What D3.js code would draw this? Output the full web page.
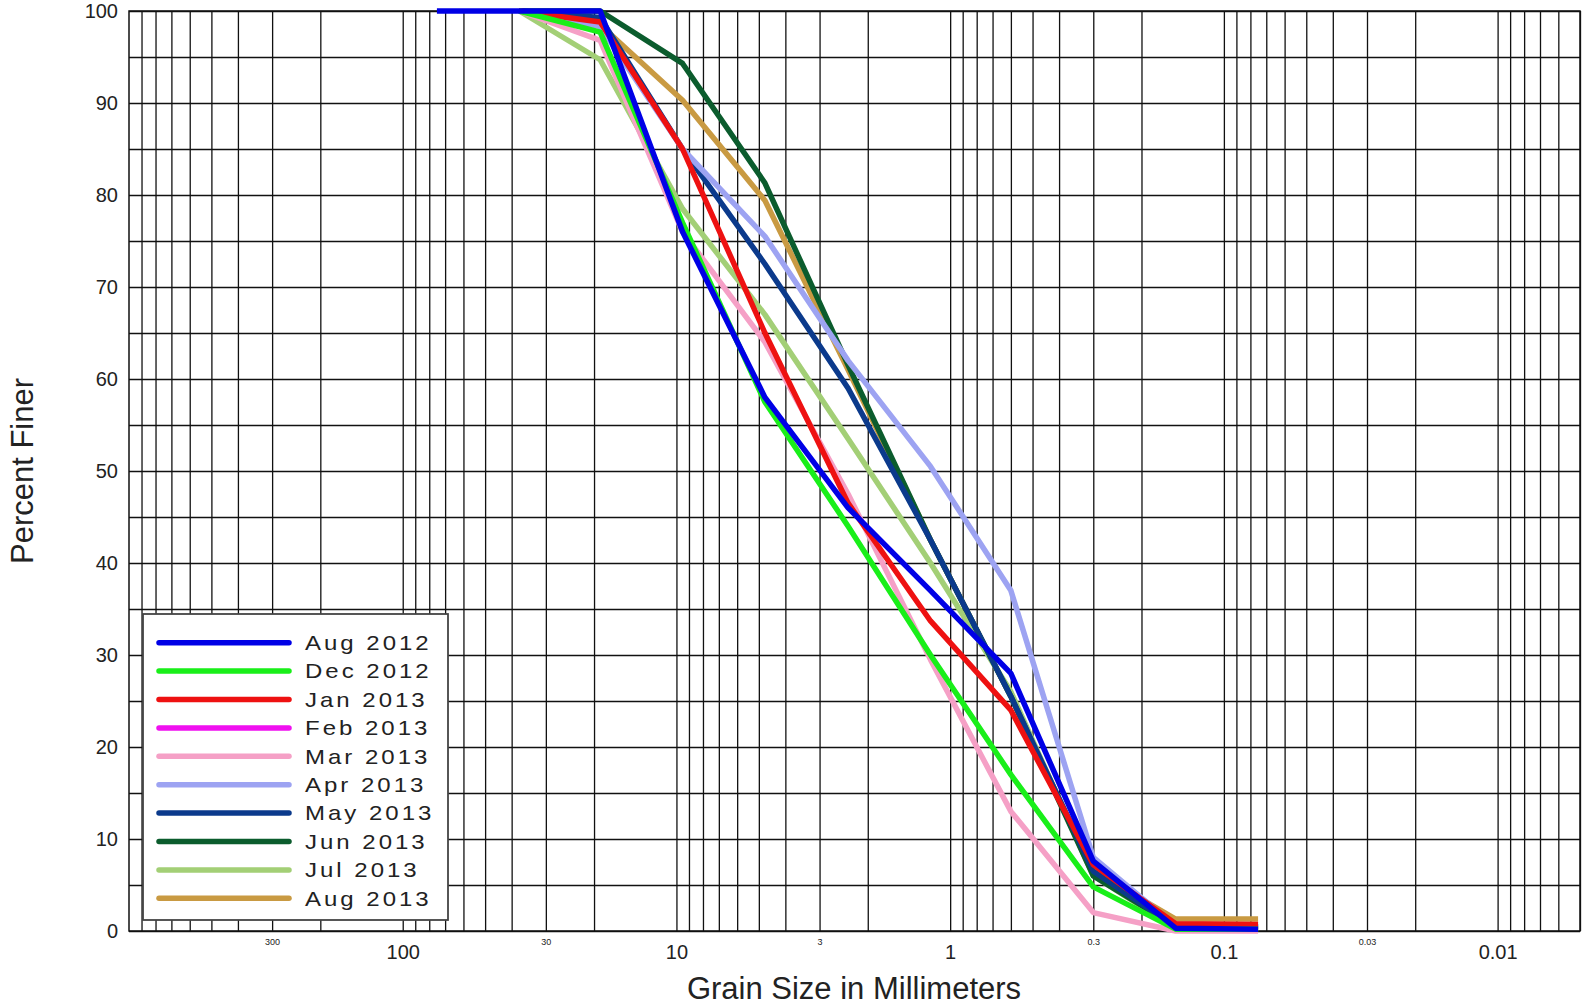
<!DOCTYPE html>
<html>
<head>
<meta charset="utf-8">
<script src="https://cdn.jsdelivr.net/npm/d3@7"></script>
<style>
  body { margin: 0; background: #fff; }
  svg { display: block; font-family: "Liberation Sans", Arial, sans-serif; }
  .grid line { stroke: #111; stroke-width: 1.3; }
  .grid path { display: none; }
  .lbl path, .lbl line { display: none; }
  .lbl text { fill: #222; }
</style>
</head>
<body>
<script>
// sieve sizes (mm)
var sieves = [75, 37.5, 19, 9.5, 4.75, 2.36, 1.18, 0.6, 0.3, 0.15, 0.075];

// percent finer per survey
var aug2012 = [100, 100, 100, 76, 58, 46, 37, 28, 7.6, 0.3, 0.2],
    dec2012 = [null, 100, 97.7, 77, 57.5, 44, 30, 17, 4.8, 0.2, 0.2],
    jan2013 = [null, 100, 98.8, 85, 65, 46.5, 33.7, 24, 7.2, 0.8, 0.7],
    feb2013 = [],
    mar2013 = [null, 100, 96.8, 76, 64, 47.5, 29.5, 13, 2, 0, 0],
    apr2013 = [null, 100, 98.3, 85, 75.5, 62, 50.5, 37, 8, 0.5, 0.5],
    may2013 = [null, 100, 99.3, 85, 72.5, 59, 42.5, 25.5, 6.5, 0.4, 0.4],
    jun2013 = [null, 100, 100, 94.3, 81.3, 61.5, 42.5, 25.5, 6, 0.5, 0.5],
    jul2013 = [null, 100, 94.7, 78.5, 67, 53.5, 40, 26, 6, 0.3, 0.3],
    aug2013 = [null, 100, 98.5, 90.3, 79.4, 61, 42.5, 25.5, 6.5, 1.3, 1.3];

var names = ["Aug 2012", "Dec 2012", "Jan 2013", "Feb 2013", "Mar 2013",
             "Apr 2013", "May 2013", "Jun 2013", "Jul 2013", "Aug 2013"];
var colors = ["#0000e6", "#19ef19", "#ee1111", "#f010f0", "#f5a0c6",
              "#9da3f2", "#0b3a8c", "#0b5c2d", "#a3cf76", "#c99a42"];
var values = [aug2012, dec2012, jan2013, feb2013, mar2013,
              apr2013, may2013, jun2013, jul2013, aug2013];

// axis ticks
var yTicks = [0, 10, 20, 30, 40, 50, 60, 70, 80, 90, 100],
    yGrid = d3.range(0, 101, 5),
    majorX = [100, 10, 1, 0.1, 0.01],
    majorXText = ["100", "10", "1", "0.1", "0.01"],
    minorX = [300, 30, 3, 0.3, 0.03],
    minorXText = ["300", "30", "3", "0.3", "0.03"];

var W = 1585, H = 1008;
var pL = 129, pR = 1580, pT = 11, pB = 931;

var svg = d3.select("body").append("svg")
    .attr("width", W)
    .attr("height", H);

var x = d3.scaleLog().domain([1000, 0.005]).range([pL, pR]),
    y = d3.scaleLinear().domain([0, 100]).range([pB, pT]);

// log grid: 1..9 per decade
var xGrid = [];
for (var e = -3; e <= 2; e++) {
    for (var m = 1; m <= 9; m++) {
        var v = m * Math.pow(10, e);
        if (v >= 0.005 && v <= 1000) xGrid.push(v);
    }
}

svg.append("g")
    .attr("class", "grid")
    .attr("transform", "translate(0," + pB + ")")
    .call(d3.axisBottom(x).tickValues(xGrid).tickSize(-(pB - pT)).tickFormat(""));

svg.append("g")
    .attr("class", "grid")
    .attr("transform", "translate(" + pL + ",0)")
    .call(d3.axisLeft(y).tickValues(yGrid).tickSize(-(pR - pL)).tickFormat(""));

svg.append("rect")
    .attr("x", pL).attr("y", pT)
    .attr("width", pR - pL).attr("height", pB - pT)
    .attr("fill", "none").attr("stroke", "#111").attr("stroke-width", 1.5);

// y labels
svg.append("g")
    .attr("class", "lbl")
    .attr("transform", "translate(" + pL + ",0)")
    .call(d3.axisLeft(y).tickValues(yTicks).tickSize(0).tickPadding(11))
    .selectAll("text")
    .style("font-size", "20px");

// x labels
svg.append("g")
    .attr("class", "lbl")
    .attr("transform", "translate(0," + (pB + 14) + ")")
    .call(d3.axisBottom(x).tickValues(majorX).tickSize(0).tickPadding(0)
        .tickFormat(function(d, i) { return majorXText[i]; }))
    .selectAll("text")
    .style("font-size", "20px");

svg.append("g")
    .attr("class", "lbl")
    .attr("transform", "translate(0," + (pB + 8) + ")")
    .call(d3.axisBottom(x).tickValues(minorX).tickSize(0).tickPadding(0)
        .tickFormat(function(d, i) { return minorXText[i]; }))
    .selectAll("text")
    .style("font-size", "9px");

// axis titles
svg.append("text")
    .attr("x", 854)
    .attr("y", 999)
    .attr("text-anchor", "middle")
    .style("font-size", "31px")
    .attr("fill", "#222")
    .text("Grain Size in Millimeters");

svg.append("text")
    .attr("transform", "translate(33,471) rotate(-90)")
    .attr("text-anchor", "middle")
    .style("font-size", "31px")
    .attr("fill", "#222")
    .text("Percent Finer");

// curves, drawn last legend entry first
var line = d3.line()
    .x(function(d) { return x(d[0]); })
    .y(function(d) { return y(d[1]); });

var plot = svg.append("g");
for (var i = values.length - 1; i >= 0; i--) {
    var pts = sieves.map(function(s, j) { return [s, values[i][j]]; })
        .filter(function(d) { return d[1] !== null && d[1] !== undefined; });
    if (pts.length === 0) continue;
    plot.append("path")
        .datum(pts)
        .attr("d", line)
        .attr("fill", "none")
        .attr("stroke", colors[i])
        .attr("stroke-width", 5.5)
        .attr("stroke-linejoin", "round");
}

// legend
var legend = svg.append("g");
legend.append("rect")
    .attr("x", 143).attr("y", 614)
    .attr("width", 305).attr("height", 306)
    .attr("fill", "#fff")
    .attr("stroke", "#444")
    .attr("stroke-width", 1.8);

names.forEach(function(n, i) {
    var ly = 642.7 + i * 28.4;
    legend.append("line")
        .attr("x1", 159).attr("x2", 289)
        .attr("y1", ly).attr("y2", ly)
        .attr("stroke", colors[i])
        .attr("stroke-width", 5.5)
        .attr("stroke-linecap", "round");
    legend.append("text")
        .attr("transform", "translate(305," + ly + ") scale(1.2,1)")
        .attr("dy", "0.36em")
        .style("font-size", "20px")
        .style("letter-spacing", "2.5px")
        .attr("fill", "#222")
        .text(n);
});
</script>
</body>
</html>
